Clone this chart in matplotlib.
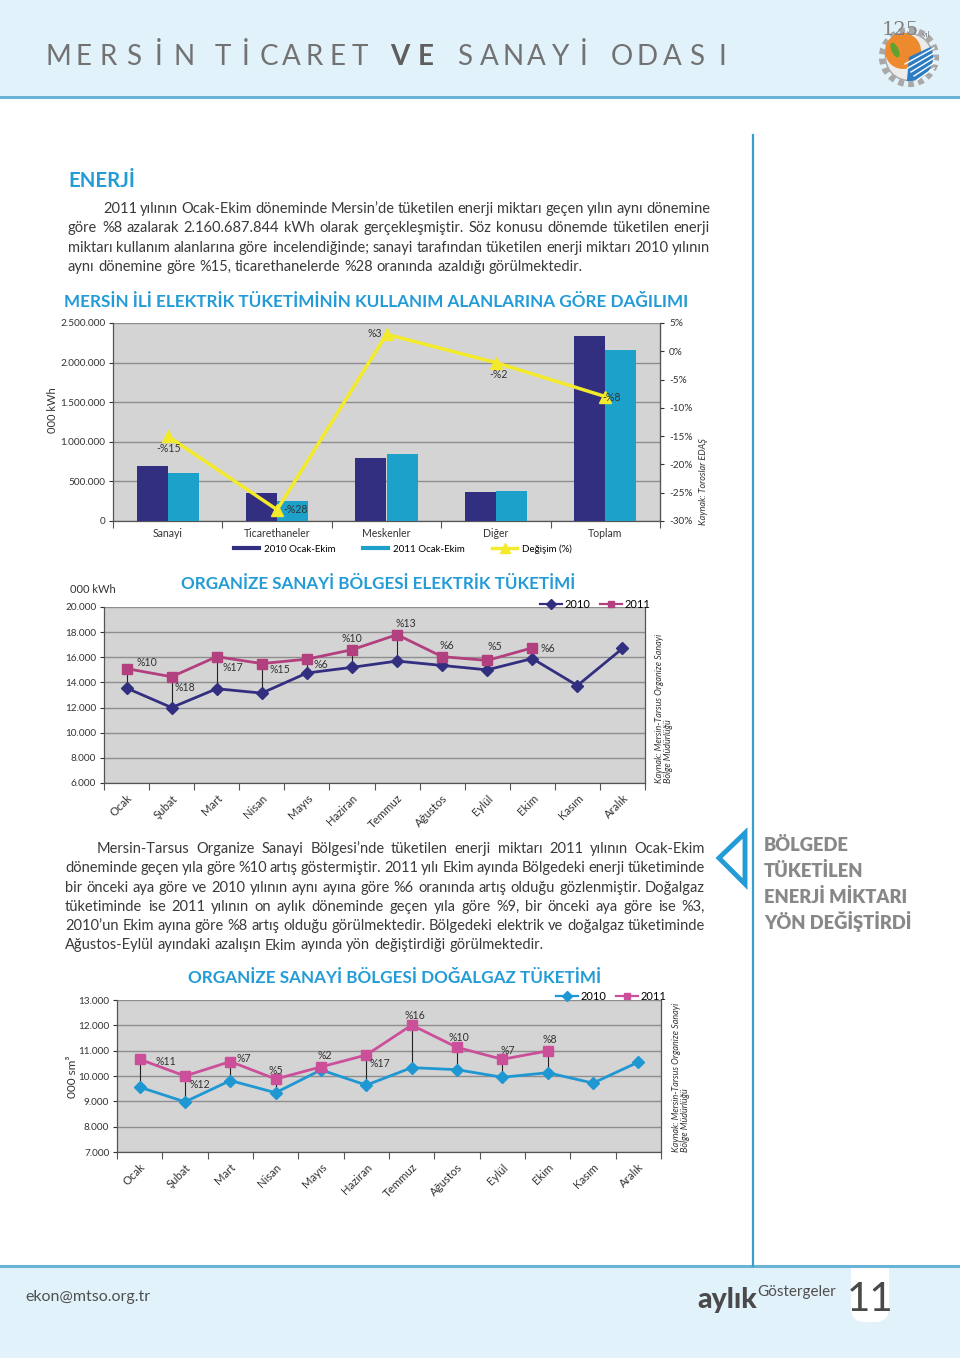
import matplotlib
matplotlib.use('Agg')
import matplotlib.pyplot as plt
import numpy as np
from matplotlib.patches import Rectangle, Polygon, FancyBboxPatch, Circle, Wedge, Ellipse
from matplotlib.lines import Line2D

plt.rcParams['font.family'] = ['Lato', 'DejaVu Sans']
plt.rcParams['hatch.linewidth'] = 1.5

# ---------------- data ----------------
categories = ['Sanayi', 'Ticarethaneler', 'Meskenler', 'Diğer', 'Toplam']
elec_2010 = [700000, 355000, 790000, 370000, 2340000]
elec_2011 = [605000, 255000, 850000, 375000, 2160000]
change_pct = [-15, -28, 3, -2, -8]
change_labels = ['-%15', '-%28', '%3', '-%2', '-%8']
elec_yticks = [0, 500000, 1000000, 1500000, 2000000, 2500000]
pct_yticks = [-30, -25, -20, -15, -10, -5, 0, 5]

months = ['Ocak', 'Şubat', 'Mart', 'Nisan', 'Mayıs', 'Haziran', 'Temmuz',
          'Ağustos', 'Eylül', 'Ekim', 'Kasım', 'Aralık']
osb_elec_2010 = [13550, 12000, 13500, 13150, 14750, 15200, 15700, 15350, 15000, 15900, 13750, 16700]
osb_elec_2011 = [15100, 14450, 16050, 15500, 15850, 16600, 17800, 16050, 15750, 16750]
osb_elec_labels = ['%10', '%18', '%17', '%15', '%6', '%10', '%13', '%6', '%5', '%6']
osb_elec_yticks = [6000, 8000, 10000, 12000, 14000, 16000, 18000, 20000]

osb_gas_2010 = [9560, 8980, 9820, 9340, 10240, 9640, 10330, 10250, 9950, 10130, 9720, 10550]
osb_gas_2011 = [10660, 10000, 10570, 9880, 10360, 10830, 12010, 11130, 10660, 10990]
osb_gas_labels = ['%11', '%12', '%7', '%5', '%2', '%17', '%16', '%10', '%7', '%8']
osb_gas_yticks = [7000, 8000, 9000, 10000, 11000, 12000, 13000]

para1 = [
    "2011 yılının Ocak-Ekim döneminde Mersin’de tüketilen enerji miktarı geçen yılın aynı dönemine",
    "göre %8 azalarak 2.160.687.844 kWh olarak gerçekleşmiştir. Söz konusu dönemde tüketilen enerji",
    "miktarı kullanım alanlarına göre incelendiğinde; sanayi tarafından tüketilen enerji miktarı 2010 yılının",
    "aynı dönemine göre %15, ticarethanelerde %28 oranında azaldığı görülmektedir.",
]
para2 = [
    "Mersin-Tarsus Organize Sanayi Bölgesi’nde tüketilen enerji miktarı 2011 yılının Ocak-Ekim",
    "döneminde geçen yıla göre %10 artış göstermiştir. 2011 yılı Ekim ayında Bölgedeki enerji tüketiminde",
    "bir önceki aya göre ve 2010 yılının aynı ayına göre %6 oranında artış olduğu gözlenmiştir. Doğalgaz",
    "tüketiminde ise 2011 yılının on aylık döneminde geçen yıla göre %9, bir önceki aya göre ise %3,",
    "2010’un Ekim ayına göre %8 artış olduğu görülmektedir. Bölgedeki elektrik ve doğalgaz tüketiminde",
    "Ağustos-Eylül ayındaki azalışın Ekim ayında yön değiştirdiği görülmektedir.",
]
side_lines = ['BÖLGEDE', 'TÜKETİLEN', 'ENERJİ MİKTARI', 'YÖN DEĞİŞTİRDİ']

# ---------------- styles ----------------
BLUE = '#229bd6'
BAND = '#bddff2'
STRIPE = '#e2f2fb'
TXT = '#3a3a3a'
GRAYBG = '#d4d4d4'
GRID = '#8e8e8e'
NAVY = '#332f80'
CYAN = '#1ca1cb'
YEL = '#f3ea2b'
MAG = '#b23f7e'
PINK = '#cc4f9a'
CYAN2 = '#1e97d3'

W, H = 960, 1358
fig = plt.figure(figsize=(W / 100, H / 100), dpi=100)
bg = fig.add_axes([0, 0, 1, 1])
bg.set_xlim(0, W)
bg.set_ylim(H, 0)
bg.axis('off')
renderer = fig.canvas.get_renderer()


def rect(l, t, r, b):
    return [l / W, 1 - b / H, (r - l) / W, (b - t) / H]


def twidth(t):
    return t.get_window_extent(renderer=renderer).width


def fit_text(x, y, s, width, fs0=14, **kw):
    t = bg.text(x, y, s, fontsize=fs0, va='baseline', **kw)
    t.set_fontsize(fs0 * width / twidth(t))
    return t


def thousands(v):
    return f"{v:,}".replace(',', '.')


def justify(lines, x0, x1, ybase, dy, indent, fs, **kw):
    sp = bg.text(0, 0, 'a a', fontsize=fs, **kw)
    sp2 = bg.text(0, 0, 'aa', fontsize=fs, **kw)
    space = twidth(sp) - twidth(sp2)
    sp.remove(); sp2.remove()
    for i, line in enumerate(lines):
        y = ybase + i * dy
        xs = x0 + (indent if i == 0 else 0)
        words = line.split(' ')
        ts, ws = [], []
        for w in words:
            t = bg.text(xs, y, w, fontsize=fs, va='baseline', ha='left', **kw)
            ts.append(t)
            ws.append(twidth(t))
        if i == len(lines) - 1 or len(words) < 2:
            gap = space
        else:
            gap = max((x1 - xs - sum(ws)) / (len(words) - 1), 1.0)
        x = xs
        for t, w in zip(ts, ws):
            t.set_position((x, y))
            x += w + gap


# ---------------- header / footer ----------------
bg.add_patch(Rectangle((0, 0), W, 97, facecolor=BAND, edgecolor=STRIPE, lw=0, hatch='/' * 12))
bg.plot([0, W], [97, 97], color='#68b3d6', lw=2.2)

title_words = [('MERSİN', 50, 190, 'normal'), ('TİCARET', 215, 366, 'normal'),
               ('VE', 392, 432, 'bold'), ('SANAYİ', 457, 590, 'normal'),
               ('ODASI', 614, 728, 'normal')]
for word, x0, x1, wt in title_words:
    n = len(word)
    cs = np.linspace(x0 + 8, x1 - 6, n) if n > 1 else [0.5 * (x0 + x1)]
    for ch, cx in zip(word, cs):
        bg.text(cx, 65, ch, fontsize=20, color='#727272' if wt == 'normal' else '#5e5e5e',
                fontweight=wt, ha='center', va='baseline')

# logo
bg.add_patch(Circle((909, 57), 27, facecolor='none', edgecolor='#a8a8a8', lw=4.5, ls=(0, (0.9, 0.7))))
bg.add_patch(Circle((909, 57), 23.5, facecolor='#ececec', edgecolor='#a8a8a8', lw=1.0))
bg.add_patch(Circle((903, 51), 18, facecolor='#ee8a2e', edgecolor='none'))
bg.add_patch(Wedge((909, 57), 24, -25, 95, facecolor='#2c7cc3', edgecolor='none'))
for k in range(5):
    bg.plot([905 + 3 * k, 934], [64 + 4 * k, 48 + 5 * k], color='white', lw=1.0)
bg.add_patch(Ellipse((895, 50), 7, 16, angle=-25, facecolor='#5ea32e', edgecolor='none'))
bg.text(900, 35, '125', fontsize=14, color='#808080', family=['DejaVu Serif'], ha='center',
        va='baseline', zorder=5)
bg.text(926, 37, 'yıl', fontsize=6, color='#808080', ha='center', va='baseline', zorder=5)

bg.add_patch(Rectangle((0, 1266), W, H - 1266, facecolor=BAND, edgecolor=STRIPE, lw=0, hatch='/' * 12))
bg.plot([0, W], [1266, 1266], color='#68b3d6', lw=2.2)
bg.add_patch(FancyBboxPatch((851, 1240), 38, 82, boxstyle='round,pad=0,rounding_size=14',
                            facecolor='white', edgecolor='none'))
bg.text(870, 1311, '11', fontsize=29, color='#4a4a4a', fontweight='normal', ha='center', va='baseline')
fit_text(697, 1308, 'aylık', 60, fs0=18, color='#4a4a4a', fontweight='black')
bg.text(757, 1296, 'Göstergeler', fontsize=11, color='#4f4f4f', fontweight='normal', va='baseline')
bg.text(25, 1301, 'ekon@mtso.org.tr', fontsize=11.5, color='#4f4f4f', fontweight='normal', va='baseline')

# side decoration
bg.plot([753, 753], [135, 1266], color='#3a9fd0', lw=1.6)
bg.add_patch(Polygon([(719, 858), (745, 833), (745, 884)], closed=True, facecolor='none',
                     edgecolor=BLUE, lw=3.5, joinstyle='miter'))
t0 = fit_text(764, 851, side_lines[3], 149, fs0=16, color='#888888', fontweight='heavy')
sfs = t0.get_fontsize()
t0.remove()
for i, s in enumerate(side_lines):
    bg.text(764, 851 + 26 * i, s, fontsize=sfs, color='#888888', fontweight='heavy', va='baseline')

# ---------------- texts ----------------
fit_text(68, 187, 'ENERJİ', 67, fs0=16, color=BLUE, fontweight='bold')
cal = bg.text(0, 0, para2[-1], fontsize=10)
body_fs = 10 * 474 / twidth(cal)
cal.remove()
justify(para1, 68, 710, 213, 19.3, 35, body_fs, color=TXT)
justify(para2, 65, 705, 853, 19.3, 32, body_fs, color=TXT)

fit_text(64, 307, 'MERSİN İLİ ELEKTRİK TÜKETİMİNİN KULLANIM ALANLARINA GÖRE DAĞILIMI', 630,
         color=BLUE, fontweight='bold')
fit_text(181, 589, 'ORGANİZE SANAYİ BÖLGESİ ELEKTRİK TÜKETİMİ', 397, color=BLUE, fontweight='bold')
fit_text(188, 983, 'ORGANİZE SANAYİ BÖLGESİ DOĞALGAZ TÜKETİMİ', 416, color=BLUE, fontweight='bold')

TFS = 7.2
AFS = 7.6


def style_axes(ax):
    ax.set_facecolor(GRAYBG)
    ax.grid(axis='y', color=GRID, lw=1.0)
    ax.set_axisbelow(True)
    ax.spines['top'].set_visible(False)
    for s in ['left', 'bottom', 'right']:
        ax.spines[s].set_color('#555555')
        ax.spines[s].set_linewidth(0.9)
    ax.tick_params(axis='both', labelsize=TFS, colors='#333333', length=3, width=0.8, pad=2.5)


# ---------------- chart 1 ----------------
ax1 = fig.add_axes(rect(113, 323, 660, 521))
style_axes(ax1)
x = np.arange(len(categories))
bw = 0.285
ax1.bar(x - bw / 2, elec_2010, bw, color=NAVY, zorder=3)
ax1.bar(x + bw / 2, elec_2011, bw, color=CYAN, zorder=3)
ax1.set_xlim(-0.5, len(categories) - 0.5)
ax1.set_ylim(0, 2500000)
ax1.set_yticks(elec_yticks)
ax1.set_yticklabels([thousands(v) for v in elec_yticks])
ax1.set_xticks(x)
ax1.set_xticklabels(categories, fontsize=AFS)
ax1.tick_params(axis='x', length=0, pad=5)
ax1.set_xticks(np.arange(-0.5, len(categories), 1.0), minor=True)
ax1.tick_params(axis='x', which='minor', length=5, width=0.8, color='#555555')
ax1r = ax1.twinx()
ax1r.plot(x, change_pct, color=YEL, lw=2.5, marker='^', ms=8, zorder=5)
ax1r.set_ylim(-30, 5)
ax1r.set_yticks(pct_yticks)
ax1r.set_yticklabels([f"{v}%" for v in pct_yticks])
ax1r.tick_params(axis='y', labelsize=TFS, colors='#333333', length=3, width=0.8)
for s in ['top', 'left', 'bottom']:
    ax1r.spines[s].set_visible(False)
ax1r.spines['right'].set_color('#555555')
c1_off = [((1, -12), 'center'), ((6, 0), 'left'), ((-4, 1), 'right'), ((3, -12), 'center'), ((-3, -1), 'left')]
for xi, v, lab, (off, ha) in zip(x, change_pct, change_labels, c1_off):
    ax1r.annotate(lab, (xi, v), xytext=off, textcoords='offset pixels', ha=ha, va='center',
                  fontsize=AFS, color='#333333', zorder=6)
bg.text(52, 410, '000 kWh', rotation=90, fontsize=8, color='#333333', ha='center', va='center')
bg.text(703, 482, 'Kaynak: Toroslar EDAŞ', rotation=90, fontsize=6.5, style='italic',
        color='#333333', ha='center', va='center')
h1 = [Line2D([0], [0], color=NAVY, lw=3), Line2D([0], [0], color=CYAN, lw=3),
      Line2D([0], [0], color=YEL, lw=2.5, marker='^', ms=7)]
fig.legend(h1, ['2010 Ocak-Ekim', '2011 Ocak-Ekim', 'Değişim (%)'], loc='center',
           bbox_to_anchor=(403 / W, 1 - 549 / H), ncol=3, frameon=False, fontsize=7,
           handlelength=2.6, columnspacing=2.8, handletextpad=0.5)


def month_chart(ax, y10, y11, labels, offs, c10, c11, m10, yticks, ylim):
    style_axes(ax)
    xm = np.arange(len(months))
    x11 = xm[:len(y11)]
    ax.vlines(x11, np.array(y10[:len(y11)]), np.array(y11), color='#222222', lw=0.8, zorder=2)
    ax.plot(xm, y10, color=c10, lw=2, marker=m10, ms=6.5, zorder=3)
    ax.plot(x11, y11, color=c11, lw=2, marker='s', ms=6.5, zorder=3)
    ax.set_xlim(-0.5, len(months) - 0.5)
    ax.set_ylim(*ylim)
    ax.set_yticks(yticks)
    ax.set_yticklabels([thousands(v) for v in yticks])
    ax.set_xticks(xm)
    ax.set_xticklabels(months, rotation=45, ha='right', rotation_mode='anchor', fontsize=8.2)
    ax.tick_params(axis='x', length=0, pad=7)
    ax.set_xticks(np.arange(-0.5, len(months), 1.0), minor=True)
    ax.tick_params(axis='x', which='minor', length=5, width=0.8, color='#555555')
    for xi, v, lab, (off, ha) in zip(x11, y11, labels, offs):
        ax.annotate(lab, (xi, v), xytext=off, textcoords='offset pixels', ha=ha, va='center',
                    fontsize=AFS, color='#333333', zorder=6)
    hh = [Line2D([0], [0], color=c10, lw=1.6, marker=m10, ms=5),
          Line2D([0], [0], color=c11, lw=1.6, marker='s', ms=4.5)]
    ax.legend(hh, ['2010', '2011'], loc='lower right', bbox_to_anchor=(1.01, 0.985), ncol=2,
              frameon=False, fontsize=8, handlelength=2.0, columnspacing=0.9,
              handletextpad=0.2, borderpad=0, borderaxespad=0)


# ---------------- chart 2 ----------------
ax2 = fig.add_axes(rect(104, 607, 645, 783))
c2_off = [((10, 6), 'left'), ((3, -11), 'left'), ((6, -11), 'left'), ((8, -6), 'left'),
          ((7, -5), 'left'), ((0, 11), 'center'), ((9, 11), 'center'), ((5, 11), 'center'),
          ((8, 14), 'center'), ((8, -1), 'left')]
month_chart(ax2, osb_elec_2010, osb_elec_2011, osb_elec_labels, c2_off, NAVY, MAG, 'D',
            osb_elec_yticks, (6000, 20000))
bg.text(70, 593, '000 kWh', fontsize=8, color='#333333', va='baseline')
bg.text(664, 783, 'Kaynak: Mersin-Tarsus Organize Sanayi\nBölge Müdürlüğü', rotation=90,
        fontsize=6.5, style='italic', color='#333333', ha='center', va='bottom',
        multialignment='left', linespacing=1.1)

# ---------------- chart 3 ----------------
ax3 = fig.add_axes(rect(117, 1000, 661, 1152))
c3_off = [((16, -2), 'left'), ((4, -8), 'left'), ((6, 3), 'left'), ((0, 9), 'center'),
          ((4, 11), 'center'), ((3, -9), 'left'), ((3, 10), 'center'), ((2, 10), 'center'),
          ((5, 9), 'center'), ((2, 11), 'center')]
month_chart(ax3, osb_gas_2010, osb_gas_2011, osb_gas_labels, c3_off, CYAN2, PINK, 'D',
            osb_gas_yticks, (7000, 13000))
bg.text(72, 1077, '000 sm³', rotation=90, fontsize=8.5, color='#333333', ha='center', va='center')
bg.text(681, 1152, 'Kaynak: Mersin-Tarsus Organize Sanayi\nBölge Müdürlüğü', rotation=90,
        fontsize=6.5, style='italic', color='#333333', ha='center', va='bottom',
        multialignment='left', linespacing=1.1)

fig.savefig('out.png', dpi=100)
